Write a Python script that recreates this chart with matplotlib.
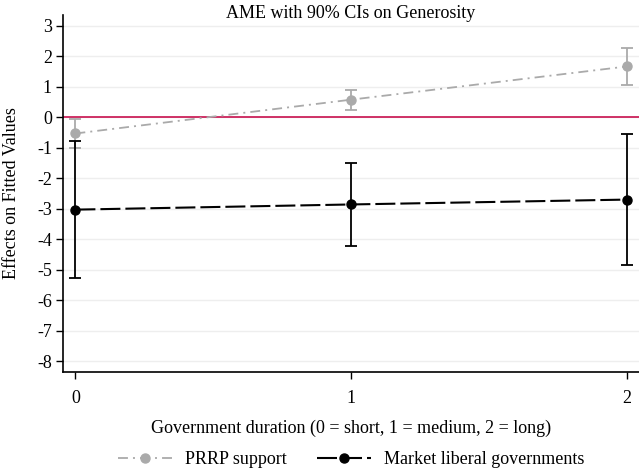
import matplotlib
matplotlib.use("Agg")
import matplotlib.pyplot as plt
from matplotlib.lines import Line2D

plt.rcParams['font.family'] = ['Liberation Serif', 'DejaVu Serif']

x = [0, 1, 2]
xticklabels = ["0", "1", "2"]
prrp_est = [-0.53, 0.58, 1.67]
prrp_lo = [-0.99, 0.24, 1.07]
prrp_hi = [-0.05, 0.91, 2.27]
ml_est = [-3.03, -2.86, -2.70]
ml_lo = [-5.28, -4.22, -4.84]
ml_hi = [-0.79, -1.50, -0.55]
yticks = [3, 2, 1, 0, -1, -2, -3, -4, -5, -6, -7, -8]

fig = plt.figure(figsize=(6.39, 4.69), dpi=100)
ax = fig.add_axes([0.0986, 0.2075, 0.9014, 0.7605])
axc = 0.0986 + 0.9014 / 2

for yv in yticks:
    ax.axhline(yv, color='#eeeeee', lw=1.0, zorder=0)
ax.axhline(0, color='#c8104e', lw=1.2, zorder=1)

gcol = '#aaaaaa'
gdash = (5.5, 2.8, 1.1, 2.8)
bdash = (9.6, 2.4)
ax.errorbar(x, prrp_est,
            yerr=[[e - l for e, l in zip(prrp_est, prrp_lo)], [h - e for e, h in zip(prrp_est, prrp_hi)]],
            fmt='o', color=gcol, ms=6.5, capsize=4, elinewidth=1.3, capthick=1.3, zorder=3)
ax.plot(x, prrp_est, color=gcol, lw=1.3, dashes=gdash, zorder=2)

ax.errorbar(x, ml_est,
            yerr=[[e - l for e, l in zip(ml_est, ml_lo)], [h - e for e, h in zip(ml_est, ml_hi)]],
            fmt='o', color='black', ms=6.5, capsize=4, elinewidth=1.3, capthick=1.3, zorder=4)
ax.plot(x, ml_est, color='black', lw=1.5, dashes=bdash, zorder=2)

ax.set_xlim(-0.045, 2.045)
ax.set_ylim(-8.35, 3.36)
ax.set_yticks(yticks)
ax.set_yticklabels([str(v) for v in yticks])
ax.set_xticks(x)
ax.set_xticklabels(xticklabels)
ax.tick_params(axis='both', direction='out', length=5, width=1, labelsize=13, colors='black')
ax.tick_params(axis='x', pad=8)
ax.tick_params(axis='y', pad=3)
ax.spines['top'].set_visible(False)
ax.spines['right'].set_visible(False)
ax.spines['left'].set_linewidth(1.2)
ax.spines['bottom'].set_linewidth(1.2)

fig.text(axc, 0.972, "AME with 90% CIs on Generosity", fontsize=13, ha='center', va='center')
ax.set_ylabel("Effects on Fitted Values", fontsize=13)
ax.yaxis.set_label_coords(-0.075, 0.5)
ax.set_xlabel("Government duration (0 = short, 1 = medium, 2 = long)", fontsize=13, labelpad=9)

handles = [
    Line2D([0], [0], color=gcol, lw=1.3, dashes=gdash, marker='o', ms=6.5),
    Line2D([0], [0], color='black', lw=1.5, dashes=bdash, marker='o', ms=6.5),
]
fig.legend(handles, ["PRRP support", "Market liberal governments"], loc='center',
           bbox_to_anchor=(axc, 0.02), ncol=2, frameon=False, fontsize=13,
           handlelength=3.0, columnspacing=1.7, handletextpad=0.7)

fig.savefig("out.png", dpi=100)
